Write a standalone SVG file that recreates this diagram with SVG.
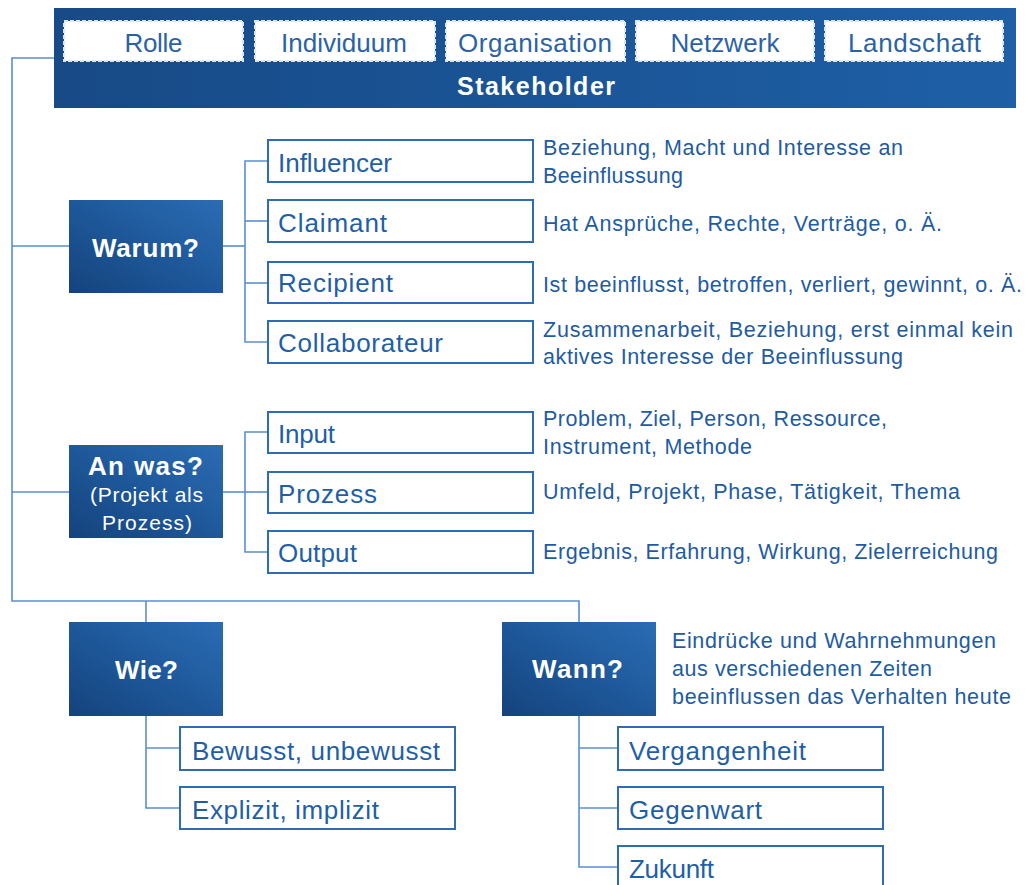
<svg xmlns="http://www.w3.org/2000/svg" width="1027" height="885" viewBox="0 0 1027 885">
  <defs>
    <linearGradient id="qGrad" x1="0" y1="1" x2="1" y2="0">
      <stop offset="0" stop-color="#14437c"/>
      <stop offset="0.55" stop-color="#1f5a9d"/>
      <stop offset="1" stop-color="#2b6cb3"/>
    </linearGradient>
    <linearGradient id="barGrad" x1="0" y1="0" x2="1" y2="0">
      <stop offset="0" stop-color="#174a86"/>
      <stop offset="1" stop-color="#1e5fa6"/>
    </linearGradient>
    <style>
      .bar { fill: url(#barGrad); }
      .tag { fill: #ffffff; stroke: #dde5ef; stroke-width: 2; stroke-dasharray: 4 2; }
      .tagText { font-family: "Liberation Sans", Arial, sans-serif; font-size: 26px; fill: #2a63a5; text-anchor: middle; }
      .title { font-family: "Liberation Sans", Arial, sans-serif; font-size: 25px; font-weight: bold; fill: #ffffff; }
      .q { fill: url(#qGrad); }
      .qText { font-family: "Liberation Sans", Arial, sans-serif; font-size: 26px; font-weight: bold; fill: #ffffff; text-anchor: middle; }
      .qSub { font-family: "Liberation Sans", Arial, sans-serif; font-size: 21px; fill: #ffffff; text-anchor: middle; }
      .item { fill: #ffffff; stroke: #2e6cb4; stroke-width: 2; }
      .itemText { font-family: "Liberation Sans", Arial, sans-serif; font-size: 26px; fill: #1f5fa6; }
      .desc { font-family: "Liberation Sans", Arial, sans-serif; font-size: 21.5px; fill: #1f5c9f; }
      .link { fill: none; stroke: #5b8fd0; stroke-width: 1.6; }
    </style>
  </defs>

  <rect width="1027" height="885" fill="#ffffff"/>

  <!-- connectors -->
  <g id="connectors">
    <path class="link" d="M54,58 H12 V601 H579 V622"/>
    <path class="link" d="M146,601 V622"/>
    <path class="link" d="M12,246 H69"/>
    <path class="link" d="M12,492 H69"/>
    <path class="link" d="M223,246 H245"/>
    <path class="link" d="M268,161 H245 V342 H268"/>
    <path class="link" d="M245,221 H268"/>
    <path class="link" d="M245,283 H268"/>
    <path class="link" d="M223,492 H245"/>
    <path class="link" d="M268,432 H245 V552 H268"/>
    <path class="link" d="M245,492 H268"/>
    <path class="link" d="M146,716 V808 H180"/>
    <path class="link" d="M146,748 H180"/>
    <path class="link" d="M579,716 V867 H618"/>
    <path class="link" d="M579,748 H618"/>
    <path class="link" d="M579,808 H618"/>
  </g>

  <!-- stakeholder header -->
  <g id="stakeholder">
    <rect class="bar" x="54" y="8" width="962" height="100"/>
    <rect class="tag" x="64" y="21" width="179" height="40"/>
    <text class="tagText" x="153.5" y="52" textLength="58">Rolle</text>
    <rect class="tag" x="255" y="21" width="180" height="40"/>
    <text class="tagText" x="344" y="52" textLength="126">Individuum</text>
    <rect class="tag" x="446" y="21" width="179" height="40"/>
    <text class="tagText" x="535" y="52" textLength="154">Organisation</text>
    <rect class="tag" x="636" y="21" width="178" height="40"/>
    <text class="tagText" x="725" y="52" textLength="109">Netzwerk</text>
    <rect class="tag" x="825" y="21" width="178" height="40"/>
    <text class="tagText" x="914.5" y="52" textLength="133">Landschaft</text>
    <text class="title" x="457" y="95" textLength="158">Stakeholder</text>
  </g>

  <!-- Warum? -->
  <g id="warum">
    <rect class="q" x="69" y="200" width="154" height="93"/>
    <text class="qText" x="145.5" y="257" textLength="107">Warum?</text>
  </g>
  <g id="influencer">
    <rect class="item" x="268" y="140" width="265" height="42"/>
    <text class="itemText" x="278" y="172" textLength="114">Influencer</text>
    <text class="desc" x="543" y="155" textLength="360">Beziehung, Macht und Interesse an</text>
    <text class="desc" x="543" y="183" textLength="140">Beeinflussung</text>
  </g>
  <g id="claimant">
    <rect class="item" x="268" y="200" width="265" height="42"/>
    <text class="itemText" x="278" y="232" textLength="109">Claimant</text>
    <text class="desc" x="543" y="231" textLength="399">Hat Ansprüche, Rechte, Verträge, o. Ä.</text>
  </g>
  <g id="recipient">
    <rect class="item" x="268" y="262" width="265" height="41"/>
    <text class="itemText" x="278" y="292" textLength="115">Recipient</text>
    <text class="desc" x="543" y="292" textLength="479">Ist beeinflusst, betroffen, verliert, gewinnt, o. Ä.</text>
  </g>
  <g id="collaborateur">
    <rect class="item" x="268" y="321" width="265" height="42"/>
    <text class="itemText" x="278" y="352" textLength="165">Collaborateur</text>
    <text class="desc" x="543" y="337" textLength="470">Zusammenarbeit, Beziehung, erst einmal kein</text>
    <text class="desc" x="543" y="364" textLength="360">aktives Interesse der Beeinflussung</text>
  </g>

  <!-- An was? -->
  <g id="anwas">
    <rect class="q" x="69" y="445" width="154" height="93"/>
    <text class="qText" x="145.5" y="475" textLength="115">An was?</text>
    <text class="qSub" x="146.5" y="502" textLength="113">(Projekt als</text>
    <text class="qSub" x="147" y="530" textLength="90">Prozess)</text>
  </g>
  <g id="input">
    <rect class="item" x="268" y="412" width="265" height="41"/>
    <text class="itemText" x="278" y="443" textLength="57">Input</text>
    <text class="desc" x="543" y="426" textLength="344">Problem, Ziel, Person, Ressource,</text>
    <text class="desc" x="543" y="454" textLength="209">Instrument, Methode</text>
  </g>
  <g id="prozess">
    <rect class="item" x="268" y="472" width="265" height="41"/>
    <text class="itemText" x="278" y="503" textLength="99">Prozess</text>
    <text class="desc" x="543" y="499" textLength="417">Umfeld, Projekt, Phase, Tätigkeit, Thema</text>
  </g>
  <g id="output">
    <rect class="item" x="268" y="531" width="265" height="42"/>
    <text class="itemText" x="278" y="562" textLength="79">Output</text>
    <text class="desc" x="543" y="559" textLength="455">Ergebnis, Erfahrung, Wirkung, Zielerreichung</text>
  </g>

  <!-- Wie? -->
  <g id="wie">
    <rect class="q" x="69" y="622" width="154" height="94"/>
    <text class="qText" x="146.5" y="679" textLength="63">Wie?</text>
  </g>
  <g id="bewusst">
    <rect class="item" x="180" y="727" width="275" height="43"/>
    <text class="itemText" x="192" y="760" textLength="248">Bewusst, unbewusst</text>
  </g>
  <g id="explizit">
    <rect class="item" x="180" y="787" width="275" height="42"/>
    <text class="itemText" x="192" y="819" textLength="187">Explizit, implizit</text>
  </g>

  <!-- Wann? -->
  <g id="wann">
    <rect class="q" x="502" y="622" width="154" height="94"/>
    <text class="qText" x="577.5" y="678" textLength="91">Wann?</text>
    <text class="desc" x="672" y="648" textLength="324">Eindrücke und Wahrnehmungen</text>
    <text class="desc" x="672" y="676" textLength="260">aus verschiedenen Zeiten</text>
    <text class="desc" x="672" y="704" textLength="339">beeinflussen das Verhalten heute</text>
  </g>
  <g id="vergangenheit">
    <rect class="item" x="618" y="727" width="265" height="43"/>
    <text class="itemText" x="629" y="760" textLength="177">Vergangenheit</text>
  </g>
  <g id="gegenwart">
    <rect class="item" x="618" y="787" width="265" height="42"/>
    <text class="itemText" x="629" y="819" textLength="133">Gegenwart</text>
  </g>
  <g id="zukunft">
    <rect class="item" x="618" y="846" width="265" height="44"/>
    <text class="itemText" x="629" y="878" textLength="85">Zukunft</text>
  </g>
</svg>
